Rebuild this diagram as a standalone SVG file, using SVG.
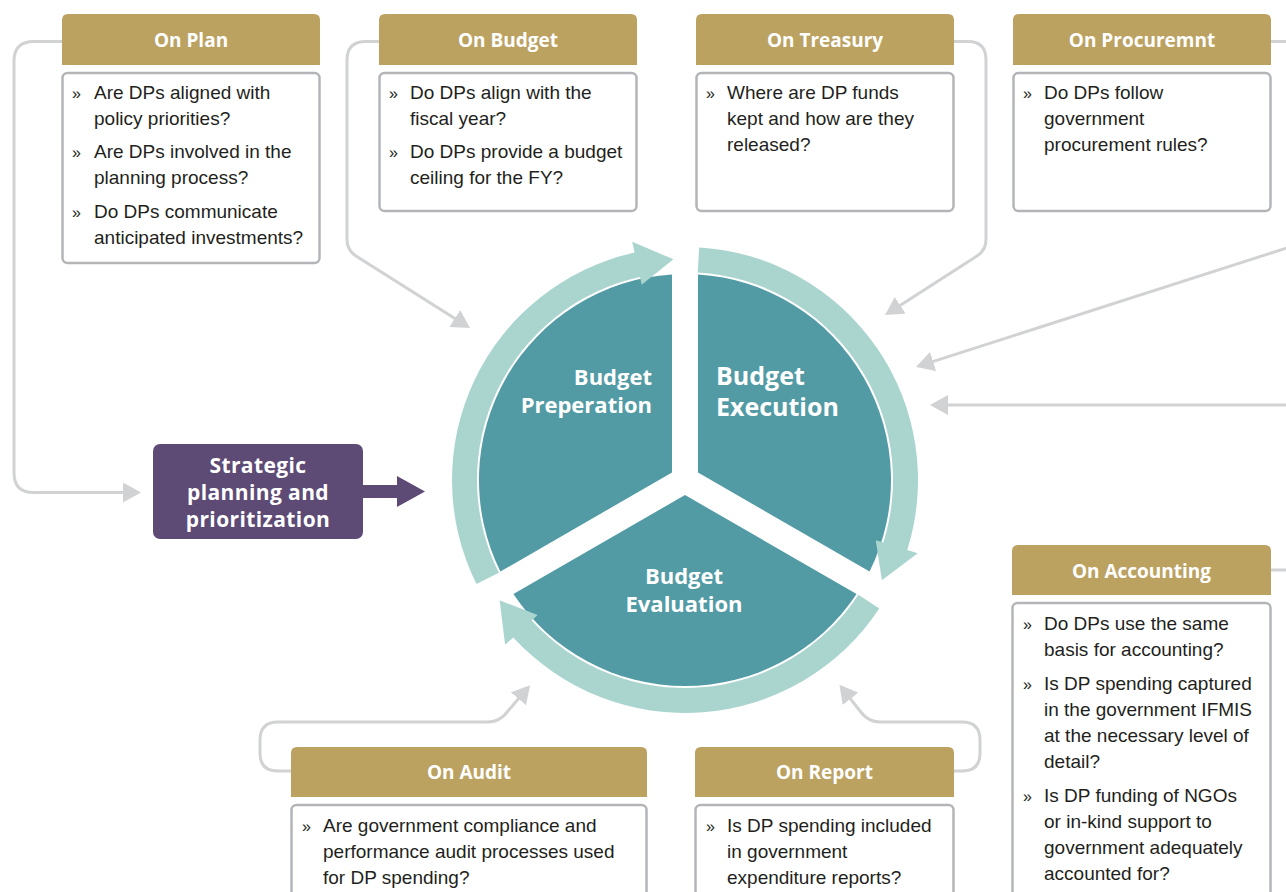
<svg xmlns="http://www.w3.org/2000/svg" width="1286" height="892" viewBox="0 0 1286 892">
<defs>
<style>
.hdr{fill:#BCA261}
.body{fill:#fff;stroke:#B3B5B8;stroke-width:2.5}
.ht{font-family:"Open Sans","Noto Sans",sans-serif;font-weight:700;font-size:19px;fill:#fff;text-anchor:middle}
.bt{font-family:"Liberation Sans",Arial,sans-serif;font-size:19px;fill:#231F20}
.bl{font-family:"Liberation Sans",Arial,sans-serif;font-size:16px;fill:#231F20}
.conn{fill:none;stroke:#D1D2D4;stroke-width:3}
.sec{fill:#529BA5}
.ring{fill:#AAD5CF}
.ct{font-family:"Open Sans","Noto Sans",sans-serif;font-weight:700;fill:#fff}
</style>
<marker id="ah" markerUnits="userSpaceOnUse" markerWidth="18" markerHeight="20" refX="2" refY="10" orient="auto" viewBox="0 0 18 20">
<path d="M0,0 L18,10 L0,20 Z" fill="#D1D2D4"/>
</marker>
</defs>
<rect width="1286" height="892" fill="#fff"/>

<g id="connectors">
<path class="conn" marker-end="url(#ah)" d="M62 41.5 H34 Q14 41.5 14 61 V473 Q14 492.5 34 492.5 H125"/>
<path class="conn" marker-end="url(#ah)" d="M379 41.5 H366 Q347 41.5 347 60 V240 Q347 250 356 256 L456.5 319.5"/>
<path class="conn" marker-end="url(#ah)" d="M954 41.5 H968 Q986 41.5 986 60 V240 Q986 250 977 256 L898.5 306.4"/>
<path class="conn" d="M1271 41.5 H1290"/>
<path class="conn" marker-end="url(#ah)" d="M1290 247 L931.2 362.1"/>
<path class="conn" marker-end="url(#ah)" d="M1290 405 L946 405"/>
<path class="conn" d="M1271 570 H1290"/>
<path class="conn" marker-end="url(#ah)" d="M291 771 H278 Q260 771 260 753 V740 Q260 722 278 722 H488 Q500 722 508 711 L519.7 697.3"/>
<path class="conn" marker-end="url(#ah)" d="M954 771 H962 Q980 771 980 753 V740 Q980 722 962 722 H880 Q868 722 860 711 L849.3 697.3"/>
<polygon points="363,485 397,485 397,476 425,491.5 397,507 397,498 363,498" fill="#5D4A75"/>
</g>

<g id="node-cycle">
<path class="sec" d="M672.01 472.5 L500.42 571.53 A206 206 0 0 1 672 274.41 Z"/>
<path class="sec" d="M697.99 472.5 L698 274.41 A206 206 0 0 1 869.55 571.53 Z"/>
<path class="sec" d="M685 495 L856.58 594.02 A206 206 0 0 1 513.42 594.02 Z"/>
<path class="ring" d="M476.48 583.96 A233 233 0 0 1 634.57 252.52 L632.19 241.78 L673.43 259.3 L641.71 284.74 L639.98 276.93 A208 208 0 0 0 498.85 572.81 Z"/>
<path class="ring" d="M699.22 247.44 A233 233 0 0 1 907.22 550.07 L917.71 553.37 L881.91 580.33 L875.74 540.14 L883.37 542.55 A208 208 0 0 0 697.7 272.39 Z"/>
<path class="ring" d="M879.3 608.6 A233 233 0 0 1 513.21 637.41 L505.1 644.84 L499.65 600.37 L537.54 615.12 L531.65 620.52 A208 208 0 0 0 858.45 594.8 Z"/>
<text class="ct" font-size="22" text-anchor="end" x="652" y="385">Budget</text>
<text class="ct" font-size="22" text-anchor="end" x="652" y="413">Preperation</text>
<text class="ct" font-size="25" x="716" y="385">Budget</text>
<text class="ct" font-size="25" x="716" y="416">Execution</text>
<text class="ct" font-size="22" text-anchor="middle" x="684" y="584">Budget</text>
<text class="ct" font-size="22" text-anchor="middle" x="684" y="612">Evaluation</text>
</g>

<g id="node-strategic">
<rect x="153" y="444" width="210" height="95" rx="7" fill="#5D4A75"/>
<text class="ct" font-size="21" letter-spacing="0.4" text-anchor="middle" x="258" y="473">Strategic</text>
<text class="ct" font-size="21" letter-spacing="0.4" text-anchor="middle" x="258" y="500">planning and</text>
<text class="ct" font-size="21" letter-spacing="0.4" text-anchor="middle" x="258" y="527">prioritization</text>
</g>

<g id="node-plan">
<path class="hdr" d="M62 65 V20 Q62 14 68 14 H314 Q320 14 320 20 V65 Z"/>
<text class="ht" x="191" y="47">On Plan</text>
<rect class="body" x="62.5" y="73" width="257" height="190" rx="5"/>
<text class="bl" x="72" y="99">»</text><text class="bt" x="94" y="99">Are DPs aligned with</text>
<text class="bt" x="94" y="125">policy priorities?</text>
<text class="bl" x="72" y="158">»</text><text class="bt" x="94" y="158">Are DPs involved in the</text>
<text class="bt" x="94" y="184">planning process?</text>
<text class="bl" x="72" y="218">»</text><text class="bt" x="94" y="218">Do DPs communicate</text>
<text class="bt" x="94" y="244">anticipated investments?</text>
</g>

<g id="node-budget">
<path class="hdr" d="M379 65 V20 Q379 14 385 14 H631 Q637 14 637 20 V65 Z"/>
<text class="ht" x="508" y="47">On Budget</text>
<rect class="body" x="379.5" y="73" width="257" height="138" rx="5"/>
<text class="bl" x="389" y="99">»</text><text class="bt" x="410" y="99">Do DPs align with the</text>
<text class="bt" x="410" y="125">fiscal year?</text>
<text class="bl" x="389" y="158">»</text><text class="bt" x="410" y="158">Do DPs provide a budget</text>
<text class="bt" x="410" y="184">ceiling for the FY?</text>
</g>

<g id="node-treasury">
<path class="hdr" d="M696 65 V20 Q696 14 702 14 H948 Q954 14 954 20 V65 Z"/>
<text class="ht" x="825" y="47">On Treasury</text>
<rect class="body" x="696.5" y="73" width="257" height="138" rx="5"/>
<text class="bl" x="706" y="99">»</text><text class="bt" x="727" y="99">Where are DP funds</text>
<text class="bt" x="727" y="125">kept and how are they</text>
<text class="bt" x="727" y="151">released?</text>
</g>

<g id="node-procurement">
<path class="hdr" d="M1013 65 V20 Q1013 14 1019 14 H1265 Q1271 14 1271 20 V65 Z"/>
<text class="ht" x="1142" y="47">On Procuremnt</text>
<rect class="body" x="1013.5" y="73" width="257" height="138" rx="5"/>
<text class="bl" x="1023" y="99">»</text><text class="bt" x="1044" y="99">Do DPs follow</text>
<text class="bt" x="1044" y="125">government</text>
<text class="bt" x="1044" y="151">procurement rules?</text>
</g>

<g id="node-accounting">
<path class="hdr" d="M1012 595 V551 Q1012 545 1018 545 H1265 Q1271 545 1271 551 V595 Z"/>
<text class="ht" x="1141.5" y="578">On Accounting</text>
<rect class="body" x="1012.5" y="603" width="258" height="320" rx="5"/>
<text class="bl" x="1023" y="630">»</text><text class="bt" x="1044" y="630">Do DPs use the same</text>
<text class="bt" x="1044" y="656">basis for accounting?</text>
<text class="bl" x="1023" y="690">»</text><text class="bt" x="1044" y="690">Is DP spending captured</text>
<text class="bt" x="1044" y="716">in the government IFMIS</text>
<text class="bt" x="1044" y="742">at the necessary level of</text>
<text class="bt" x="1044" y="768">detail?</text>
<text class="bl" x="1023" y="802">»</text><text class="bt" x="1044" y="802">Is DP funding of NGOs</text>
<text class="bt" x="1044" y="828">or in-kind support to</text>
<text class="bt" x="1044" y="854">government adequately</text>
<text class="bt" x="1044" y="880">accounted for?</text>
</g>

<g id="node-audit">
<path class="hdr" d="M291 797 V753 Q291 747 297 747 H641 Q647 747 647 753 V797 Z"/>
<text class="ht" x="469" y="779">On Audit</text>
<rect class="body" x="291.5" y="805" width="355" height="120" rx="5"/>
<text class="bl" x="302" y="832">»</text><text class="bt" x="323" y="832">Are government compliance and</text>
<text class="bt" x="323" y="858">performance audit processes used</text>
<text class="bt" x="323" y="884">for DP spending?</text>
</g>

<g id="node-report">
<path class="hdr" d="M695 797 V753 Q695 747 701 747 H948 Q954 747 954 753 V797 Z"/>
<text class="ht" x="824.5" y="779">On Report</text>
<rect class="body" x="695.5" y="805" width="258" height="120" rx="5"/>
<text class="bl" x="706" y="832">»</text><text class="bt" x="727" y="832">Is DP spending included</text>
<text class="bt" x="727" y="858">in government</text>
<text class="bt" x="727" y="884">expenditure reports?</text>
</g>
</svg>
